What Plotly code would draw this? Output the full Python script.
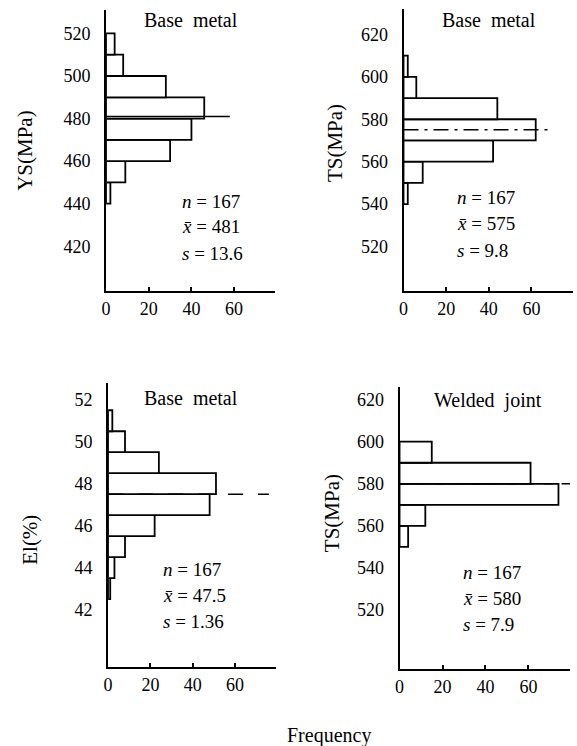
import plotly.graph_objects as go

# ---------------- data ----------------
ys_bin_centers = [445, 455, 465, 475, 485, 495, 505, 515]
ys_counts = [2, 9, 30, 40, 46, 28, 8, 4]
ys_mean = 481

tsb_bin_centers = [545, 555, 565, 575, 585, 595, 605]
tsb_counts = [2, 9, 42, 62, 44, 6, 2]
tsb_mean = 575

el_bin_centers = [43, 44, 45, 46, 47, 48, 49, 50, 51]
el_counts = [1, 3, 8, 22, 48, 51, 24, 8, 2]
el_mean = 47.5

tsw_bin_centers = [555, 565, 575, 585, 595]
tsw_counts = [4, 12, 74, 61, 15]
tsw_mean = 580

ys_ticks = [420, 440, 460, 480, 500, 520]
ts_ticks = [520, 540, 560, 580, 600, 620]
el_ticks = [42, 44, 46, 48, 50, 52]
freq_ticks = [0, 20, 40, 60]

titles = ["Base\u00a0 metal", "Base\u00a0 metal", "Base\u00a0 metal", "Welded\u00a0 joint"]
ytitles = ["YS(MPa)", "TS(MPa)", "El(%)", "TS(MPa)"]
stats = [
    ["167", "481", "13.6"],
    ["167", "575", "9.8"],
    ["167", "47.5", "1.36"],
    ["167", "580", "7.9"],
]

# ---------------- layout helpers ----------------
W, H = 577, 746
def fx(x):
    return x / W
def fy(y):
    return 1 - y / H

FONT = "Liberation Serif"

panels = [
    dict(c=ys_bin_centers, v=ys_counts, bw=10, mean=ys_mean, mlen=58, dash="solid",
         xd=(102, 272), yd=(10, 291), yr=[399, 531], yt=ys_ticks, xr=[0, 79],
         title_xy=(188, 20), stat_xy=(177, 201), ytitle_xy=(20, 150)),
    dict(c=tsb_bin_centers, v=tsb_counts, bw=10, mean=tsb_mean, mlen=69, dash="longdashdot",
         xd=(402, 573), yd=(9, 291), yr=[499, 632], yt=ts_ticks, xr=[0, 79.5],
         title_xy=(488, 20), stat_xy=(454, 198), ytitle_xy=(333, 143)),
    dict(c=el_bin_centers, v=el_counts, bw=1, mean=el_mean, mlen=76, dash="longdash",
         xd=(104, 273), yd=(383, 667), yr=[39.26, 52.8], yt=el_ticks, xr=[0, 79.2],
         title_xy=(188, 398), stat_xy=(157, 569), ytitle_xy=(25, 540)),
    dict(c=tsw_bin_centers, v=tsw_counts, bw=10, mean=tsw_mean, mlen=80, dash="dash",
         xd=(398, 570), yd=(387, 669), yr=[492, 626], yt=ts_ticks, xr=[0, 79.4],
         title_xy=(487, 400), stat_xy=(460, 572), ytitle_xy=(330, 513)),
]

fig = go.Figure()
annotations = []
layout_axes = {}

for i, p in enumerate(panels):
    s = "" if i == 0 else str(i + 1)
    fig.add_trace(go.Bar(
        y=p["c"], x=p["v"], width=p["bw"], orientation="h",
        marker=dict(color="white", line=dict(color="black", width=1.8)),
        xaxis="x" + s, yaxis="y" + s, showlegend=False, hoverinfo="skip"))
    fig.add_trace(go.Scatter(
        x=[0, p["mlen"]], y=[p["mean"], p["mean"]], mode="lines",
        line=dict(color="black", width=1.5, dash=p["dash"]),
        xaxis="x" + s, yaxis="y" + s, showlegend=False, hoverinfo="skip"))

    layout_axes["xaxis" + s] = dict(
        domain=[fx(p["xd"][0]), fx(p["xd"][1])], range=p["xr"], anchor="y" + s,
        showline=True, linecolor="black", linewidth=2, ticks="inside", ticklen=4,
        tickwidth=1.5, tickcolor="black", tickvals=freq_ticks, showgrid=False,
        zeroline=False, tickfont=dict(family=FONT, size=18, color="black"),
        fixedrange=True)
    layout_axes["yaxis" + s] = dict(
        domain=[fy(p["yd"][1]), fy(p["yd"][0])], range=p["yr"], anchor="x" + s,
        showline=True, linecolor="black", linewidth=2, ticks="", tickvals=p["yt"],
        ticklabelstandoff=10, showgrid=False, zeroline=False,
        tickfont=dict(family=FONT, size=18, color="black"), fixedrange=True)

    annotations.append(dict(
        x=fx(p["title_xy"][0]), y=fy(p["title_xy"][1]), xref="paper", yref="paper",
        text=titles[i], showarrow=False, xanchor="center", yanchor="middle",
        font=dict(family=FONT, size=20, color="black")))
    annotations.append(dict(
        x=fx(p["ytitle_xy"][0]), y=fy(p["ytitle_xy"][1]), xref="paper", yref="paper",
        text=ytitles[i], showarrow=False, textangle=-90, xanchor="center",
        yanchor="middle", font=dict(family=FONT, size=21, color="black")))
    labels = ["<i>n</i> = ", "<i>x\u0304</i> = ", "<i>s</i> = "]
    for k in range(3):
        annotations.append(dict(
            x=fx(p["stat_xy"][0]), y=fy(p["stat_xy"][1] + 26 * k), xref="paper",
            yref="paper", text=labels[k] + stats[i][k], showarrow=False,
            xanchor="left", yanchor="middle",
            font=dict(family=FONT, size=19, color="black")))

annotations.append(dict(
    x=fx(327), y=fy(735), xref="paper", yref="paper", text="Frequency",
    showarrow=False, xanchor="center", yanchor="middle",
    font=dict(family=FONT, size=20, color="black")))

fig.update_layout(
    width=W, height=H, autosize=False,
    margin=dict(l=0, r=0, t=0, b=0),
    paper_bgcolor="white", plot_bgcolor="white",
    annotations=annotations, **layout_axes)

fig.write_html("out.html")
